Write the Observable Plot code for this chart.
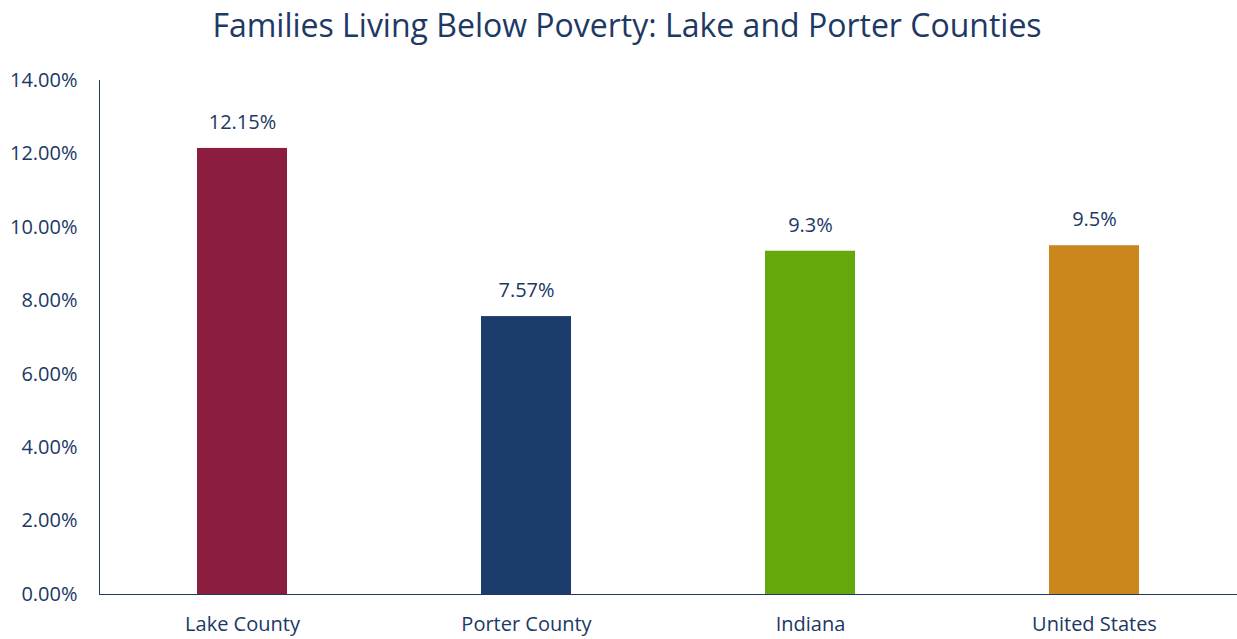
<!DOCTYPE html>
<html>
<head>
<meta charset="utf-8">
<script src="https://cdn.jsdelivr.net/npm/d3@7"></script>
<script src="https://cdn.jsdelivr.net/npm/@observablehq/plot@0.6"></script>
<style>
  html, body { margin: 0; padding: 0; background: #fff; }
  #title { height: 56px; line-height: 50px; text-align: center; font-family: "Open Sans", sans-serif; font-size: 32px; color: #203864; width: 1237px; padding-left: 17px; box-sizing: border-box; white-space: nowrap;}
</style>
</head>
<body>
<div id="title">Families Living Below Poverty: Lake and Porter Counties</div>
<div id="chart"></div>
<script>
const categories = ["Lake County", "Porter County", "Indiana", "United States"];
const values = [0.1215, 0.0757, 0.0935, 0.095];
const valueLabels = ["12.15%", "7.57%", "9.3%", "9.5%"];
const colors = ["#8b1e3f", "#1c3c6b", "#65a80c", "#cc861e"];
const yTicks = [0, 0.02, 0.04, 0.06, 0.08, 0.10, 0.12, 0.14];

const data = categories.map((c, i) => ({category: c, value: values[i], label: valueLabels[i]}));
const textColor = "#203864";

const chart = Plot.plot({
  width: 1237,
  height: 583,
  marginTop: 24,
  marginBottom: 45,
  marginLeft: 99,
  marginRight: 0,
  style: {fontFamily: "Open Sans, sans-serif", fontSize: "20px", color: textColor, background: "#fff"},
  x: {domain: categories, paddingInner: 0.684, paddingOuter: 0.342, label: null, tickSize: 0, tickPadding: 22, line: true},
  y: {domain: [0, 0.14], ticks: yTicks, tickFormat: d3.format(".2%"), label: null, tickSize: 0, tickPadding: 22, line: true},
  color: {domain: categories, range: colors},
  marks: [
    Plot.barY(data, {x: "category", y: "value", fill: "category"}),
    Plot.text(data, {x: "category", y: "value", text: "label", dy: -26, fill: textColor, fontSize: 20}),
  ]
});
document.getElementById("chart").appendChild(chart);
</script>
</body>
</html>
